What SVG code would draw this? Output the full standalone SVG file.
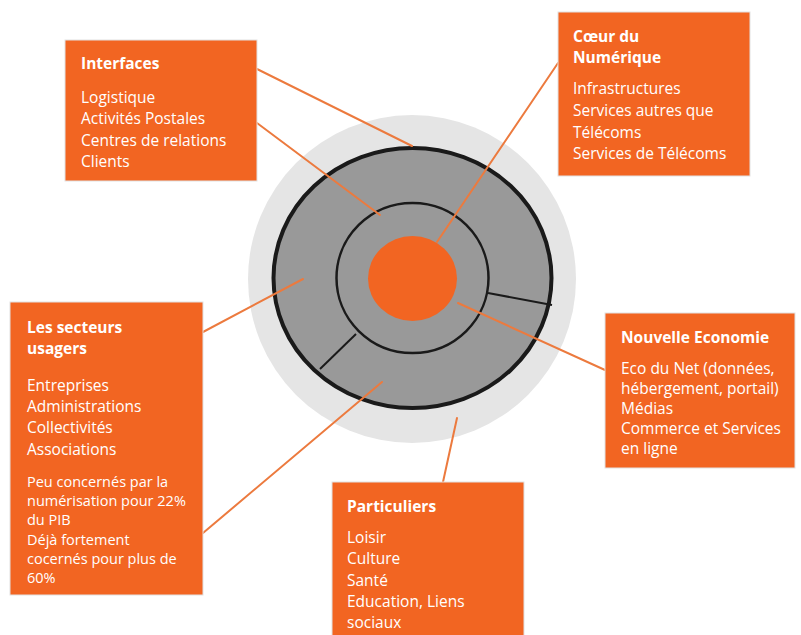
<svg xmlns="http://www.w3.org/2000/svg" width="801" height="635" viewBox="0 0 801 635">
<style>
.box{fill:#f26522;stroke:#e2e2e2;stroke-width:1}
.t{font-family:"Open Sans","Noto Sans",sans-serif;font-weight:bold;font-size:15.5px;fill:#fff}
.b{font-family:"Open Sans","Noto Sans",sans-serif;font-size:15.5px;fill:#fff}
.s{font-family:"Open Sans","Noto Sans",sans-serif;font-size:14.5px;fill:#fff}
.c{stroke:#ec7a3e;stroke-width:2;fill:none;stroke-linecap:round}
.d{stroke:#1a1a1a;stroke-width:2;fill:none}
</style>
<rect width="801" height="635" fill="#fff"/>
<g id="rings">
<circle cx="412" cy="279" r="164" fill="#e5e5e5"/>
<ellipse cx="412.5" cy="278" rx="139" ry="130" fill="#999999" stroke="#1a1a1a" stroke-width="4"/>
<ellipse cx="412.5" cy="278" rx="76" ry="75" fill="#999999" stroke="#1a1a1a" stroke-width="2.5"/>
<line class="d" x1="488" y1="293" x2="552" y2="305"/>
<line class="d" x1="356" y1="334" x2="320" y2="369"/>
</g>
<g id="core">
<ellipse cx="412.5" cy="278.5" rx="44.5" ry="42.5" fill="#f26522"/>
</g>
<g id="connectors">
<line class="c" x1="257" y1="69" x2="412" y2="146"/>
<line class="c" x1="257" y1="123" x2="380" y2="215"/>
<line class="c" x1="437" y1="242" x2="558" y2="63"/>
<line class="c" x1="203" y1="332" x2="303" y2="279"/>
<line class="c" x1="203" y1="533" x2="382" y2="382"/>
<line class="c" x1="458" y1="303" x2="605" y2="370"/>
<line class="c" x1="457" y1="418" x2="443" y2="482"/>
</g>
<g id="interfaces">
<rect class="box" x="65" y="40" width="192" height="141"/>
<text class="t" x="81" y="69">Interfaces</text>
<text class="b" x="81" y="103">Logistique</text>
<text class="b" x="81" y="124">Activités Postales</text>
<text class="b" x="81" y="146">Centres de relations</text>
<text class="b" x="81" y="167">Clients</text>
</g>
<g id="coeur">
<rect class="box" x="558" y="12" width="192" height="164"/>
<text class="t" x="573" y="42">Cœur du</text>
<text class="t" x="573" y="63">Numérique</text>
<text class="b" x="573" y="94">Infrastructures</text>
<text class="b" x="573" y="116">Services autres que</text>
<text class="b" x="573" y="138">Télécoms</text>
<text class="b" x="573" y="159">Services de Télécoms</text>
</g>
<g id="secteurs">
<rect class="box" x="10" y="302" width="193" height="293"/>
<text class="t" x="27" y="333">Les secteurs</text>
<text class="t" x="27" y="354">usagers</text>
<text class="b" x="27" y="391">Entreprises</text>
<text class="b" x="27" y="412">Administrations</text>
<text class="b" x="27" y="433">Collectivités</text>
<text class="b" x="27" y="455">Associations</text>
<text class="s" x="27" y="487">Peu concernés par la</text>
<text class="s" x="27" y="506">numérisation pour 22%</text>
<text class="s" x="27" y="525">du PIB</text>
<text class="s" x="27" y="545">Déjà fortement</text>
<text class="s" x="27" y="564">cocernés pour plus de</text>
<text class="s" x="27" y="583">60%</text>
</g>
<g id="nouvelle">
<rect class="box" x="605" y="313" width="190" height="155"/>
<text class="t" x="621" y="343">Nouvelle Economie</text>
<text class="b" x="621" y="374">Eco du Net (données,</text>
<text class="b" x="621" y="394">hébergement, portail)</text>
<text class="b" x="621" y="414">Médias</text>
<text class="b" x="621" y="434">Commerce et Services</text>
<text class="b" x="621" y="454">en ligne</text>
</g>
<g id="particuliers">
<rect class="box" x="332" y="482" width="192" height="160"/>
<text class="t" x="347" y="512">Particuliers</text>
<text class="b" x="347" y="543">Loisir</text>
<text class="b" x="347" y="564">Culture</text>
<text class="b" x="347" y="586">Santé</text>
<text class="b" x="347" y="607">Education, Liens</text>
<text class="b" x="347" y="628">sociaux</text>
</g>
</svg>
